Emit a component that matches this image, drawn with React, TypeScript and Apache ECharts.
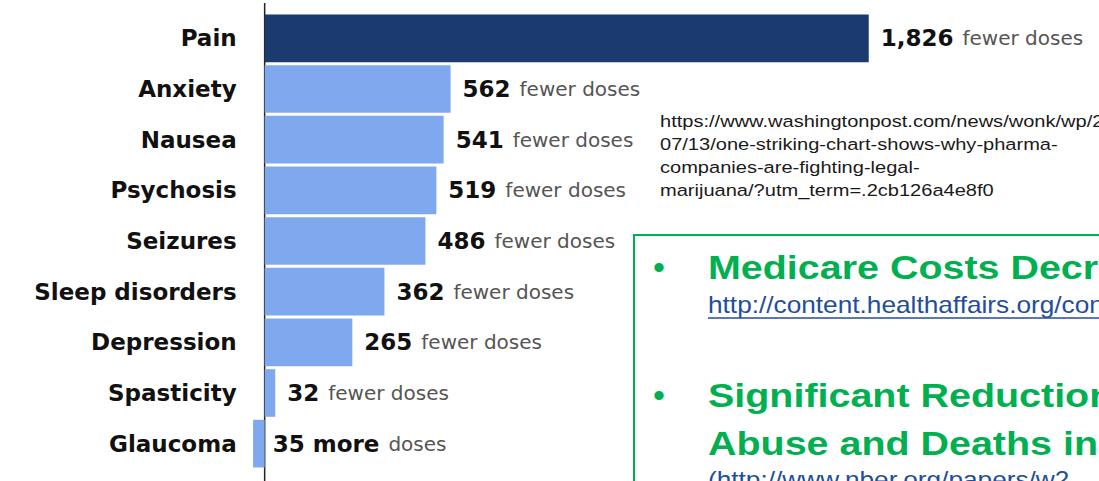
import React, { useEffect, useRef } from "react";
import * as echarts from "echarts";

const categories = [
  "Pain",
  "Anxiety",
  "Nausea",
  "Psychosis",
  "Seizures",
  "Sleep disorders",
  "Depression",
  "Spasticity",
  "Glaucoma",
];
// change in daily doses per physician (positive = fewer doses, negative = more doses)
const doseChange = [1826, 562, 541, 519, 486, 362, 265, 32, -35];
const highlightCategory = "Pain";

const sourceUrlLines = [
  "https://www.washingtonpost.com/news/wonk/wp/2016/",
  "07/13/one-striking-chart-shows-why-pharma-",
  "companies-are-fighting-legal-",
  "marijuana/?utm_term=.2cb126a4e8f0",
];
const bulletHeadings = ["Medicare Costs Decreased", "Significant Reduction in", "Abuse and Deaths in"];
const bulletLinks = ["http://content.healthaffairs.org/content", "(http://www.nber.org/papers/w2"];

const DARK = "#1b3a6e";
const LIGHT = "#7fa8ee";
const GREEN = "#00b050";
const LINK = "#1f4e9c";

function fmt(n: number) {
  return Math.abs(n).toLocaleString("en-US");
}

export default function App() {
  const ref = useRef<HTMLDivElement>(null);
  useEffect(() => {
    if (!ref.current) return;
    const chart = echarts.init(ref.current, null, { renderer: "svg" });
    const data = doseChange.map((v, i) => {
      const neg = v < 0;
      return {
        value: v,
        name: categories[i],
        itemStyle: { color: categories[i] === highlightCategory ? DARK : LIGHT },
        label: neg ? { distance: 8 } : {},
      };
    });
    chart.setOption({
      animation: false,
      grid: { left: 0, right: 0, top: 13, bottom: 12, containLabel: false, outerBoundsMode: "none" },
      xAxis: {
        type: "value",
        min: -800,
        max: 2522,
        show: false,
        splitLine: { show: false },
      },
      yAxis: {
        type: "category",
        data: categories,
        inverse: true,
        position: "left",
        offset: 0,
        axisLine: { show: false, onZero: false },
        axisTick: { show: false },
        axisLabel: {
          margin: 28,
          color: "#111",
          fontFamily: "DejaVu Sans",
          fontWeight: "bold",
          fontSize: 23,
        },
      },
      series: [
        {
          type: "bar",
          data,
          barCategoryGap: "6%",
          label: {
            show: true,
            position: "right",
            distance: 12,
            formatter: (p: any) =>
              p.value < 0
                ? `{b|${fmt(p.value)} more}{n|doses}`
                : `{b|${fmt(p.value)}}{n|fewer doses}`,
            rich: {
              b: {
                fontFamily: "DejaVu Sans",
                fontWeight: "bold",
                fontSize: 23,
                color: "#111",
                padding: [0, 9, 0, 0],
              },
              n: { fontFamily: "DejaVu Sans", fontSize: 20, color: "#555" },
            },
          },
        },
      ],
    });
    const x0 = chart.convertToPixel({ xAxisIndex: 0 }, 0) as number;
    chart.setOption({
      yAxis: { offset: -x0 },
      graphic: [
        {
          type: "line",
          shape: { x1: x0, y1: 3, x2: x0, y2: 481 },
          style: { stroke: "#222", lineWidth: 1.5 },
        },
        {
          type: "text",
          x: 660,
          y: 110,
          scaleX: 1.18,
          style: {
            text: sourceUrlLines.join("\n"),
            fontFamily: "Liberation Sans",
            fontSize: 17,
            lineHeight: 23,
            fill: "#1a1a1a",
            textAlign: "left",
            textVerticalAlign: "top",
          },
        },
        {
          type: "rect",
          shape: { x: 634, y: 235, width: 600, height: 400 },
          style: { stroke: GREEN, lineWidth: 2, fill: "rgba(0,0,0,0)" },
        },
        {
          type: "text",
          x: 653,
          y: 267,
          style: { text: "•", fontFamily: "Liberation Sans", fontSize: 34, fill: GREEN, textVerticalAlign: "middle" },
        },
        {
          type: "text",
          x: 653,
          y: 395,
          style: { text: "•", fontFamily: "Liberation Sans", fontSize: 34, fill: GREEN, textVerticalAlign: "middle" },
        },
        {
          type: "text",
          x: 708,
          y: 267,
          scaleX: 1.16,
          style: {
            text: bulletHeadings[0],
            fontFamily: "Liberation Sans",
            fontWeight: "bold",
            fontSize: 34,
            fill: GREEN,
            textVerticalAlign: "middle",
          },
        },
        {
          type: "text",
          x: 708,
          y: 305,
          scaleX: 1.14,
          style: {
            text: bulletLinks[0],
            fontFamily: "Liberation Sans",
            fontSize: 23,
            fill: LINK,
            textVerticalAlign: "middle",
          },
        },
        {
          type: "line",
          shape: { x1: 708, y1: 318, x2: 1099, y2: 318 },
          style: { stroke: LINK, lineWidth: 1.5 },
        },
        {
          type: "text",
          x: 708,
          y: 395,
          scaleX: 1.16,
          style: {
            text: bulletHeadings[1],
            fontFamily: "Liberation Sans",
            fontWeight: "bold",
            fontSize: 34,
            fill: GREEN,
            textVerticalAlign: "middle",
          },
        },
        {
          type: "text",
          x: 708,
          y: 443,
          scaleX: 1.16,
          style: {
            text: bulletHeadings[2],
            fontFamily: "Liberation Sans",
            fontWeight: "bold",
            fontSize: 34,
            fill: GREEN,
            textVerticalAlign: "middle",
          },
        },
        {
          type: "text",
          x: 708,
          y: 469,
          scaleX: 1.14,
          style: {
            text: bulletLinks[1],
            fontFamily: "Liberation Sans",
            fontSize: 23,
            fill: LINK,
            textVerticalAlign: "top",
          },
        },
      ],
    });
    return () => chart.dispose();
  }, []);
  return (
    <div
      ref={ref}
      style={{ position: "absolute", left: 0, top: 0, width: 1099, height: 481, overflow: "hidden", background: "#fff" }}
    />
  );
}
